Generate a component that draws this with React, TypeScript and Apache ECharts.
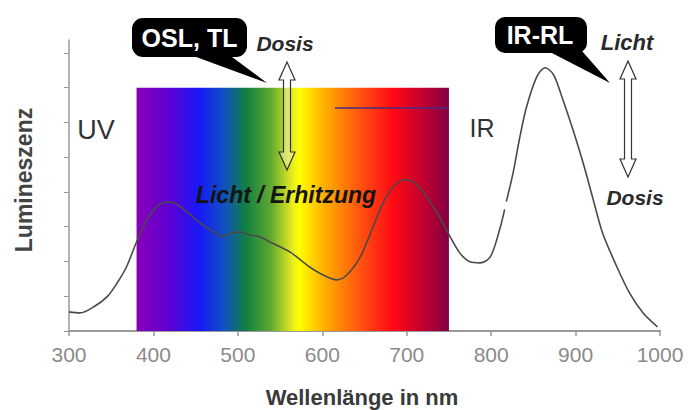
import React, { useEffect, useRef } from "react";
import * as echarts from "echarts";

// Luminescence spectrum (wavelength nm, relative luminescence)
const wavelengths: number[] = [
  300, 313, 329, 345, 357, 368, 380, 392, 404, 416, 425, 440, 455, 471, 482, 494, 503, 514, 526, 538,
  562, 585, 601, 617, 629, 645, 660, 672, 684, 696, 708, 720, 736, 751, 763, 775, 787, 799, 810, 816,
  817, 818, 826, 834, 842, 854, 864, 874, 885, 897, 909, 921, 932, 949, 964, 980, 997,
];
const luminescence: (number | string)[] = [
  0.55, 0.52, 0.69, 0.98, 1.38, 1.84, 2.56, 3.19, 3.57, 3.71, 3.68, 3.42, 3.11, 2.85, 2.73, 2.82, 2.85, 2.76, 2.71, 2.56,
  2.27, 1.84, 1.61, 1.47, 1.61, 2.13, 2.99, 3.68, 4.14, 4.35, 4.29, 3.97, 3.4, 2.73, 2.24, 1.99, 1.96, 2.13, 2.91, 3.5,
  "-", 3.72, 4.55, 5.58, 6.45, 7.31, 7.57, 7.37, 6.65, 5.78, 4.83, 3.77, 2.82, 1.84, 1.09, 0.52, 0.12,
];
const xTicks: number[] = [300, 400, 500, 600, 700, 800, 900, 1000];
const yTicks: number[] = [0, 1, 2, 3, 4, 5, 6, 7, 8];
const visibleRange: number[] = [380, 750];
const visibleTop: number = 7;
const markLineRange: number[] = [615, 750];
const markLineLevel: number = 6.42;

const spectrumStops = [
  { offset: 0, color: "#8800b8" },
  { offset: 0.1, color: "#6000d0" },
  { offset: 0.2, color: "#1818f8" },
  { offset: 0.28, color: "#1050c0" },
  { offset: 0.35, color: "#108040" },
  { offset: 0.43, color: "#60a830" },
  { offset: 0.5, color: "#e8ec20" },
  { offset: 0.52, color: "#ffff00" },
  { offset: 0.6, color: "#ffb000" },
  { offset: 0.72, color: "#ff5010" },
  { offset: 0.82, color: "#ff0a14" },
  { offset: 0.92, color: "#c00030" },
  { offset: 1, color: "#800040" },
];

function arrowPoints(cx: number, top: number, bottom: number): number[][] {
  const hw = 8;
  const hl = 18;
  const sw = 3.5;
  return [
    [cx, top],
    [cx + hw, top + hl],
    [cx + sw, top + hl],
    [cx + sw, bottom - hl],
    [cx + hw, bottom - hl],
    [cx, bottom],
    [cx - hw, bottom - hl],
    [cx - sw, bottom - hl],
    [cx - sw, top + hl],
    [cx - hw, top + hl],
  ];
}

export default function App() {
  const ref = useRef<HTMLDivElement>(null);
  useEffect(() => {
    document.body.style.margin = "0";
    if (!ref.current) return;
    const chart = echarts.init(ref.current, null, { renderer: "svg" });
    const font = "Liberation Sans, Arial, sans-serif";
    const lineData = wavelengths.map((w, i) => [w, luminescence[i]]);
    chart.setOption({
      animation: false,
      backgroundColor: "#ffffff",
      grid: { left: 69, right: 28, top: 40, bottom: 79 },
      xAxis: {
        type: "value",
        min: 300,
        max: 1000,
        interval: 100,
        axisLine: { show: true, lineStyle: { color: "#999", width: 2 } },
        axisTick: { show: true, length: 5, lineStyle: { color: "#999", width: 1.5 } },
        axisLabel: {
          color: "#8a8a8a",
          fontSize: 21,
          fontFamily: font,
          margin: 13,
          customValues: xTicks,
          formatter: (v: number) => String(v),
        },
        splitLine: { show: false },
      },
      yAxis: {
        type: "value",
        min: 0,
        max: 8.37,
        interval: 1,
        axisLine: { show: true, lineStyle: { color: "#999", width: 1.5 } },
        axisTick: { show: true, length: 5, lineStyle: { color: "#999" }, customValues: yTicks },
        axisLabel: { show: false },
        splitLine: { show: false },
      },
      series: [
        {
          type: "line",
          data: [],
          z: 1,
          markArea: {
            silent: true,
            itemStyle: {
              color: new echarts.graphic.LinearGradient(0, 0, 1, 0, spectrumStops),
              opacity: 1,
            },
            data: [[{ xAxis: visibleRange[0], yAxis: 0 }, { xAxis: visibleRange[1], yAxis: visibleTop }]],
          },
          markLine: {
            silent: true,
            symbol: "none",
            label: { show: false },
            lineStyle: { color: "#4a2a80", width: 1.5, type: "solid" },
            data: [[{ coord: [markLineRange[0], markLineLevel] }, { coord: [markLineRange[1], markLineLevel] }]],
          },
        },
        {
          type: "line",
          data: lineData,
          z: 3,
          smooth: 0.3,
          showSymbol: false,
          symbol: "none",
          connectNulls: false,
          lineStyle: { color: "#4a4a4a", width: 1.6 },
        },
      ],
      graphic: [
        {
          type: "text",
          x: 362,
          y: 397,
          style: {
            text: "Wellenlänge in nm",
            fill: "#3a3a3a",
            font: `bold 22px ${font}`,
            align: "center",
            verticalAlign: "middle",
          },
        },
        {
          type: "text",
          x: 24,
          y: 180,
          rotation: Math.PI / 2,
          style: {
            text: "Lumineszenz",
            fill: "#444",
            font: `bold 23px ${font}`,
            align: "center",
            verticalAlign: "middle",
          },
        },
        {
          type: "text",
          x: 96,
          y: 130,
          style: { text: "UV", fill: "#333", font: `27px ${font}`, align: "center", verticalAlign: "middle" },
        },
        {
          type: "text",
          x: 482,
          y: 128,
          style: { text: "IR", fill: "#333", font: `25px ${font}`, align: "center", verticalAlign: "middle" },
        },
        // OSL, TL callout
        {
          type: "polygon",
          shape: { points: [[188, 54], [228, 54], [267, 83]] },
          style: { fill: "#000" },
          z: 10,
        },
        {
          type: "rect",
          shape: { x: 132, y: 18, width: 115, height: 39, r: 11 },
          style: { fill: "#000" },
          z: 10,
        },
        {
          type: "text",
          x: 189.5,
          y: 38,
          z: 11,
          style: { text: "OSL, TL", fill: "#fff", font: `bold 25px ${font}`, align: "center", verticalAlign: "middle" },
        },
        {
          type: "text",
          x: 285,
          y: 43,
          z: 11,
          style: { text: "Dosis", fill: "#2a2a2a", font: `italic bold 21px ${font}`, align: "center", verticalAlign: "middle" },
        },
        {
          type: "polygon",
          shape: { points: arrowPoints(287, 62, 170) },
          style: { fill: "rgba(255,255,255,0.35)", stroke: "#333", lineWidth: 1.2 },
          z: 10,
        },
        {
          type: "text",
          x: 286,
          y: 195,
          z: 11,
          style: {
            text: "Licht / Erhitzung",
            fill: "#141414",
            font: `italic bold 23px ${font}`,
            align: "center",
            verticalAlign: "middle",
          },
        },
        // IR-RL callout
        {
          type: "polygon",
          shape: { points: [[548, 51], [582, 51], [610, 83]] },
          style: { fill: "#000" },
          z: 10,
        },
        {
          type: "rect",
          shape: { x: 495, y: 17, width: 92, height: 36, r: 10 },
          style: { fill: "#000" },
          z: 10,
        },
        {
          type: "text",
          x: 540,
          y: 35,
          z: 11,
          style: { text: "IR-RL", fill: "#fff", font: `bold 25px ${font}`, align: "center", verticalAlign: "middle" },
        },
        {
          type: "text",
          x: 627,
          y: 42,
          z: 11,
          style: { text: "Licht", fill: "#2a2a2a", font: `italic bold 22px ${font}`, align: "center", verticalAlign: "middle" },
        },
        {
          type: "polygon",
          shape: { points: arrowPoints(628, 61, 177) },
          style: { fill: "rgba(255,255,255,0.35)", stroke: "#333", lineWidth: 1.2 },
          z: 10,
        },
        {
          type: "text",
          x: 635,
          y: 197,
          z: 11,
          style: { text: "Dosis", fill: "#2a2a2a", font: `italic bold 21px ${font}`, align: "center", verticalAlign: "middle" },
        },
      ],
    });
    return () => chart.dispose();
  }, []);
  return <div ref={ref} style={{ width: 688, height: 410, position: "absolute", left: 0, top: 0 }} />;
}
